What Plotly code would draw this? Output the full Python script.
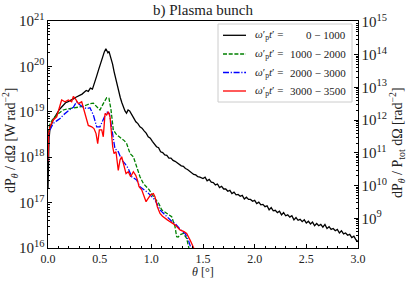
import numpy as np
import plotly.graph_objects as go

# ---------------- data (theta in degrees, values as log10) ----------------
black_theta = [0.0, 0.005, 0.01, 0.02, 0.035, 0.05, 0.07, 0.09, 0.11, 0.13, 0.15, 0.17, 0.19,
               0.21, 0.23, 0.25, 0.27, 0.29, 0.31, 0.33, 0.35, 0.37, 0.39, 0.41, 0.43, 0.45,
               0.47, 0.49, 0.51, 0.53, 0.545, 0.56, 0.57, 0.58, 0.59, 0.60, 0.61, 0.625, 0.64,
               0.655, 0.67, 0.685, 0.70, 0.715, 0.73, 0.745, 0.76, 0.775, 0.79, 0.81, 0.83,
               0.85, 0.87, 0.89, 0.91, 0.93, 0.95, 0.97, 0.99, 1.01, 1.03, 1.05, 1.07, 1.09,
               1.11, 1.13, 1.15, 1.17, 1.19, 1.21, 1.23, 1.25, 1.27, 1.29, 1.31, 1.33, 1.35,
               1.37, 1.39, 1.41, 1.43, 1.45, 1.47,
               1.50, 1.52, 1.54, 1.56, 1.58, 1.60, 1.62, 1.64, 1.66, 1.68, 1.70, 1.72, 1.74,
               1.76, 1.78, 1.80, 1.82, 1.84, 1.86, 1.88, 1.90, 1.92, 1.94, 1.96, 1.98, 2.00,
               2.02, 2.04, 2.06, 2.08, 2.10, 2.12, 2.14, 2.16, 2.18, 2.20, 2.22, 2.24, 2.26,
               2.28, 2.30, 2.32, 2.34, 2.36, 2.38, 2.40, 2.42, 2.44, 2.46, 2.48, 2.50, 2.52,
               2.54, 2.56, 2.58, 2.60, 2.62, 2.64, 2.66, 2.68, 2.70, 2.72, 2.74, 2.76, 2.78,
               2.80, 2.82, 2.84, 2.86, 2.88, 2.90, 2.92, 2.94, 2.96, 2.98, 3.00]
black_log10 = [17.3, 18.0, 18.4, 18.65, 18.75, 18.82, 18.9, 18.98, 19.05, 19.1, 19.15, 19.2, 19.22,
               19.24, 19.27, 19.29, 19.32, 19.34, 19.37, 19.39, 19.43, 19.47, 19.45, 19.52, 19.5,
               19.62, 19.78, 19.93, 20.08, 20.22, 20.32, 20.39, 20.34, 20.30, 20.33, 20.26, 20.18,
               20.05, 19.88, 19.72, 19.56, 19.42, 19.31, 19.2, 19.1, 19.02, 18.97, 19.04, 19.02,
               18.95, 18.86, 18.78, 18.74, 18.67, 18.64, 18.58, 18.53, 18.45, 18.42, 18.35, 18.30,
               18.23, 18.21, 18.12, 18.10, 18.05, 18.04, 17.98, 17.98, 17.93, 17.91, 17.87, 17.85,
               17.81, 17.80, 17.75, 17.73, 17.69, 17.67, 17.62, 17.61, 17.57, 17.56,
               17.53, 17.56, 17.48, 17.51, 17.45, 17.44, 17.39, 17.41, 17.33, 17.36, 17.30, 17.30,
               17.25, 17.27, 17.20, 17.23, 17.17, 17.18, 17.14, 17.16, 17.08, 17.12, 17.07, 17.07,
               17.03, 17.05, 16.98, 17.01, 16.95, 16.96, 16.91, 16.93, 16.84, 16.89, 16.82, 16.83,
               16.78, 16.81, 16.73, 16.78, 16.71, 16.73, 16.68, 16.71, 16.62, 16.67, 16.61, 16.63,
               16.58, 16.62, 16.55, 16.59, 16.53, 16.57, 16.49, 16.54, 16.49, 16.52, 16.46, 16.52,
               16.43, 16.47, 16.41, 16.43, 16.38, 16.41, 16.33, 16.38, 16.31, 16.33, 16.28, 16.30,
               16.23, 16.26, 16.18, 16.14]

green_theta = [0.0, 0.007, 0.019, 0.05, 0.084, 0.12, 0.148, 0.18, 0.213, 0.245, 0.277, 0.31,
               0.342, 0.374, 0.406, 0.439, 0.471, 0.503, 0.535, 0.555, 0.568, 0.59, 0.61, 0.632,
               0.665, 0.69, 0.713, 0.74, 0.761, 0.794, 0.826, 0.858, 0.89, 0.923, 0.955, 0.98,
               1.0, 1.025, 1.052, 1.075, 1.1, 1.125, 1.148, 1.175, 1.197, 1.229, 1.245, 1.26,
               1.277, 1.31, 1.342, 1.368]
green_log10 = [17.9, 18.6, 18.74, 18.85, 18.93, 19.0, 19.04, 19.06, 19.07, 19.08, 19.09, 19.1,
               19.12, 19.15, 19.18, 19.19, 19.11, 19.04, 19.18, 19.27, 19.31, 19.30, 19.04, 18.60,
               18.49, 18.45, 18.41, 18.36, 18.30, 18.08, 18.01, 17.79, 17.57, 17.42, 17.35, 17.28,
               17.20, 17.12, 17.06, 16.97, 16.84, 16.80, 16.76, 16.73, 16.69, 16.47, 16.25, 16.24,
               16.29, 16.32, 16.21, 15.95]

blue_theta = [0.0, 0.007, 0.019, 0.05, 0.084, 0.116, 0.148, 0.18, 0.213, 0.245, 0.277, 0.31,
              0.342, 0.374, 0.406, 0.439, 0.471, 0.503, 0.535, 0.568, 0.594, 0.616, 0.632, 0.648,
              0.68, 0.713, 0.745, 0.777, 0.81, 0.835, 0.858, 0.89, 0.915, 0.939, 0.965, 0.987,
              1.01, 1.035, 1.06, 1.084, 1.11, 1.132, 1.155, 1.181, 1.205, 1.229, 1.255, 1.277,
              1.3, 1.326, 1.358, 1.39]
blue_log10 = [17.9, 18.5, 18.60, 18.74, 18.80, 18.85, 18.93, 19.0, 19.05, 19.10, 19.22, 19.15,
              19.10, 19.07, 19.09, 18.93, 18.67, 18.67, 18.82, 19.0, 18.96, 18.60, 18.40, 18.19,
              18.12, 17.94, 17.86, 17.75, 17.57, 17.53, 17.50, 17.35, 17.31, 17.28, 17.22, 17.17,
              17.12, 17.06, 16.95, 16.84, 16.78, 16.73, 16.67, 16.62, 16.57, 16.54, 16.47, 16.40,
              16.36, 16.32, 16.18, 15.95]

red_theta = [0.0, 0.007, 0.019, 0.05, 0.084, 0.116, 0.132, 0.164, 0.197, 0.229, 0.245, 0.261,
             0.294, 0.326, 0.358, 0.39, 0.423, 0.445, 0.465, 0.481, 0.497, 0.52, 0.535, 0.552,
             0.568, 0.584, 0.6, 0.61, 0.626, 0.639, 0.658, 0.68, 0.697, 0.713, 0.735, 0.755,
             0.777, 0.8, 0.826, 0.849, 0.865, 0.881, 0.907, 0.929, 0.949, 0.971, 0.994, 1.02,
             1.035, 1.058, 1.084, 1.108, 1.132, 1.155, 1.181, 1.205, 1.229, 1.255, 1.277,
             1.316, 1.342, 1.374, 1.406, 1.42]
red_log10 = [17.9, 18.52, 18.67, 18.82, 18.89, 19.11, 19.26, 19.22, 19.26, 19.22, 19.34, 19.30,
             19.18, 19.22, 18.96, 18.70, 18.67, 18.63, 18.52, 18.30, 18.60, 18.60, 18.45, 18.96,
             18.93, 19.0, 18.89, 18.60, 18.23, 18.08, 18.12, 17.71, 17.94, 18.01, 17.79, 17.64,
             17.68, 17.57, 17.68, 17.60, 17.50, 17.35, 17.28, 17.13, 17.02, 17.10, 17.17, 17.20,
             17.13, 16.91, 16.76, 16.70, 16.65, 16.62, 16.58, 16.55, 16.51, 16.45, 16.40,
             16.36, 16.32, 16.18, 16.03, 15.95]

series_names = ["0 − 1000", "1000 − 2000", "2000 − 3000", "3000 − 3500"]
series_colors = ["#000000", "#008000", "#0000ff", "#ff0000"]
series_dash = ["solid", "4px,1.7px", "6px,1.7px,1.2px,1.7px", "solid"]

title_text = "b) Plasma bunch"
xlabel = "<i>θ</i> [°]"
ylabel_left = "dP<sub><i>θ</i></sub> / dΩ [W rad<sup>−2</sup>]"
ylabel_right = "dP<sub><i>θ</i></sub> / P<sub>tot</sub> dΩ [rad<sup>−2</sup>]"

FONT = "Liberation Serif"
W, H = 407, 285
L, R, T, B = 48, 49, 21, 37
PW, PH = W - L - R, H - T - B


def px(x):
    return (x - L) / PW


def py(y):
    return (H - B - y) / PH


fig = go.Figure()
all_theta = [black_theta, green_theta, blue_theta, red_theta]
all_log = [black_log10, green_log10, blue_log10, red_log10]
for th, lg, name, col, dsh in zip(all_theta, all_log, series_names, series_colors, series_dash):
    fig.add_trace(go.Scatter(x=th, y=10 ** np.array(lg), mode="lines", name=name,
                             line=dict(color=col, width=1.3, dash=dsh), showlegend=False))
# empty trace so the right-hand (normalised) axis is drawn
fig.add_trace(go.Scatter(x=[], y=[], yaxis="y2", showlegend=False, hoverinfo="skip"))

axis_common = dict(showline=True, linecolor="black", linewidth=1, ticks="inside",
                   tickcolor="black", showgrid=False, zeroline=False, automargin=False,
                   tickfont=dict(family=FONT, size=12, color="#222"))

fig.update_layout(
    width=W, height=H, margin=dict(l=L, r=R, t=T, b=B),
    paper_bgcolor="white", plot_bgcolor="white",
    xaxis=dict(range=[0, 3], dtick=0.5, tickformat=".1f", ticklen=4, mirror=True,
               minor=dict(ticks="inside", dtick=0.1, ticklen=2, tickcolor="black"),
               **axis_common),
    yaxis=dict(type="log", range=[16, 21], dtick=1, exponentformat="power", ticklen=4,
               minor=dict(ticks="inside", ticklen=2, tickcolor="black"),
               **axis_common),
    yaxis2=dict(type="log", range=[8.094, 15.03], dtick=1, exponentformat="power", ticklen=4,
                overlaying="y", side="right", anchor="x",
                minor=dict(ticks="inside", ticklen=2, tickcolor="black"),
                **axis_common),
    font=dict(family=FONT, color="#222"),
)


def text_ann(text, x, y, size, angle=0, xanchor="center"):
    return dict(text=text, x=x, y=y, xref="paper", yref="paper", xanchor=xanchor,
                yanchor="middle", showarrow=False, textangle=angle,
                font=dict(family=FONT, size=size, color="#222"))


ann = [
    text_ann(title_text, px(203), py(10), 15),
    text_ann(xlabel, px(203), py(272), 12),
    text_ann(ylabel_left, px(10), py(140), 14, angle=-90),
    text_ann(ylabel_right, px(397), py(143), 14, angle=-90),
]

shapes = []
# legend frame
x0, x1, y0, y1 = px(218), px(352), py(102), py(24)
shapes.append(dict(type="rect", xref="paper", yref="paper", x0=x0, x1=x1, y0=y0, y1=y1,
                   line=dict(color="#cccccc", width=1), fillcolor="rgba(255,255,255,0.8)",
                   layer="above"))
rows = [35.3, 54.0, 72.5, 91.0]
for r, name, col, dsh in zip(rows, series_names, series_colors, series_dash):
    shapes.append(dict(type="line", xref="paper", yref="paper", x0=px(223), x1=px(246),
                       y0=py(r), y1=py(r), line=dict(color=col, width=1.3, dash=dsh),
                       layer="above"))
    ann.append(text_ann("<i>ω</i>′<sub>p</sub><i>t</i>′ =", px(253), py(r), 11, xanchor="left"))
    ann.append(text_ann(name, px(348), py(r), 11, xanchor="right"))

fig.update_layout(annotations=ann, shapes=shapes)
fig.write_html("out.html", config={"displayModeBar": False},
               post_script="document.body.style.margin='0';")
